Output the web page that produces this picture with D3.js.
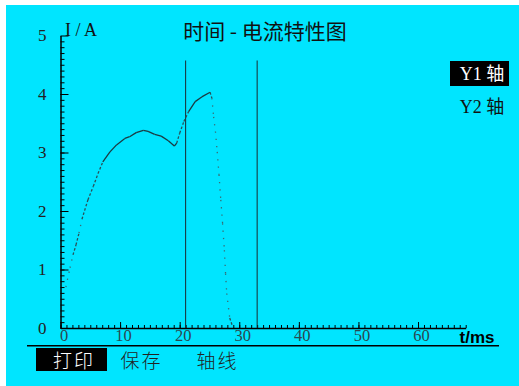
<!DOCTYPE html>
<html>
<head>
<meta charset="utf-8">
<script src="https://cdn.jsdelivr.net/npm/d3@7"></script>
<style>
  body { margin: 0; background: #fff; }
  svg { display: block; }
</style>
</head>
<body>
<div id="chart"></div>
<script>
// samples of the current curve (t in ms, I in A)
const timeMs = [0.9, 1.6, 2.1, 2.6, 3.1, 3.6, 4.6, 5.5, 6.3, 7.1, 8.3, 9.4, 10.8, 11.6, 12.7, 13.9, 14.7, 15.8, 16.9, 18.1, 19.1, 19.5, 20.0, 20.7, 21.5, 22.6, 23.7, 25.1, 25.4, 25.7, 26.0, 26.3, 26.6, 26.9, 27.2, 27.5, 27.7, 27.9, 28.2, 28.4, 28.8];
const current = [0.70, 1.03, 1.25, 1.42, 1.62, 1.86, 2.19, 2.42, 2.64, 2.84, 3.01, 3.13, 3.24, 3.27, 3.34, 3.38, 3.36, 3.31, 3.28, 3.20, 3.11, 3.16, 3.33, 3.53, 3.70, 3.87, 3.95, 4.03, 3.93, 3.61, 3.36, 3.01, 2.62, 2.19, 1.79, 1.33, 0.93, 0.59, 0.34, 0.17, 0.05];
const cursors = [21, 33];
const xTicks = [0, 10, 20, 30, 40, 50, 60];
const yTicks = [0, 1, 2, 3, 4, 5];
const menuItems = ["打印", "保存", "轴线"];
const legendItems = ["Y1 轴", "Y2 轴"];

const width = 519;
const height = 386;
const serif = "'Liberation Serif', 'DejaVu Serif', serif";
const cjk = "'Noto Sans CJK SC', sans-serif";

const svg = d3.select("#chart").append("svg")
  .attr("width", width)
  .attr("height", height);

// cyan screen
svg.append("rect")
  .attr("x", 6).attr("y", 5)
  .attr("width", width - 6).attr("height", height - 5)
  .attr("fill", "#00e5ff");

const x = d3.scaleLinear().domain([0, 68]).range([60.5, 465.7]);
const y = d3.scaleLinear().domain([0, 5]).range([328, 35.5]);

// minor ticks
svg.append("g")
  .attr("transform", `translate(0,${y(0)})`)
  .call(d3.axisBottom(x).tickValues(d3.range(0, 69, 1)).tickSize(-3).tickSizeOuter(0).tickFormat(""))
  .call(g => g.select(".domain").remove())
  .selectAll("line").attr("stroke", "#000");

svg.append("g")
  .attr("transform", `translate(${x(0)},0)`)
  .call(d3.axisLeft(y).tickValues(d3.range(0, 50, 1).map(d => d / 10)).tickSize(-4).tickSizeOuter(0).tickFormat(""))
  .call(g => g.select(".domain").remove())
  .selectAll("line").attr("stroke", "#000");

// major ticks + labels
const xAxis = svg.append("g")
  .attr("transform", `translate(0,${y(0)})`)
  .call(d3.axisBottom(x).tickValues(xTicks).tickSize(-6).tickSizeOuter(0).tickPadding(1));
xAxis.select(".domain").attr("stroke", "#000").attr("stroke-width", 1.5);
xAxis.selectAll("line").attr("stroke", "#000");
xAxis.selectAll("text")
  .attr("font-family", serif)
  .attr("font-size", 16.5)
  .attr("fill", "#2c4850")
  .attr("dx", 3);

const yAxis = svg.append("g")
  .attr("transform", `translate(${x(0)},0)`)
  .call(d3.axisLeft(y).tickValues(yTicks).tickSize(-8).tickSizeOuter(0).tickPadding(14).tickFormat(d3.format("d")));
yAxis.select(".domain").attr("stroke", "#000").attr("stroke-width", 1.5);
yAxis.selectAll("line").attr("stroke", "#000");
yAxis.selectAll("text")
  .attr("font-family", serif)
  .attr("font-size", 17)
  .attr("fill", "#222");

// axis names
svg.append("text")
  .attr("x", 65).attr("y", 36)
  .attr("font-family", serif).attr("font-size", 18)
  .attr("fill", "#111")
  .text("I / A");

svg.append("text")
  .attr("x", 477).attr("y", 343)
  .attr("text-anchor", "middle")
  .attr("font-family", "'Liberation Sans', Arial, sans-serif")
  .attr("font-weight", "bold").attr("font-size", 17)
  .attr("fill", "#000")
  .text("t/ms");

// title
svg.append("text")
  .attr("x", 265).attr("y", 39)
  .attr("text-anchor", "middle")
  .attr("font-family", cjk).attr("font-size", 21)
  .attr("font-weight", 400)
  .attr("fill", "#111")
  .text("时间 - 电流特性图");

// cursor lines
svg.selectAll(".cursor")
  .data(cursors)
  .enter()
  .append("line")
  .attr("x1", d => x(d)).attr("x2", d => x(d))
  .attr("y1", 60.5).attr("y2", y(0))
  .attr("stroke", "#1a2a30").attr("stroke-width", 1);

// current curve: steep parts appear as sparse sample dots
const pts = timeMs.map((t, i) => [x(t), y(current[i])]);
for (let i = 0; i < pts.length - 1; i++) {
  const [x0, y0] = pts[i];
  const [x1, y1] = pts[i + 1];
  const slope = Math.abs(y1 - y0) / Math.max(Math.abs(x1 - x0), 0.01);
  let dash = null;
  let color = "#1b3a42";
  if (slope > 4) { dash = "1.3 6"; color = "#3a6a72"; }
  else if (slope > 1.8) { dash = "2.5 2"; color = "#2a5058"; }
  svg.append("line")
    .attr("x1", x0).attr("y1", y0)
    .attr("x2", x1).attr("y2", y1)
    .attr("stroke", color)
    .attr("stroke-width", 1.3)
    .attr("stroke-dasharray", dash);
}

// legend on the right
const legend = svg.append("g");
legend.append("rect")
  .attr("x", 450).attr("y", 61)
  .attr("width", 59).attr("height", 25)
  .attr("fill", "#000");
legend.selectAll("text")
  .data(legendItems)
  .enter()
  .append("text")
  .attr("x", 482)
  .attr("y", (d, i) => 80 + i * 33)
  .attr("text-anchor", "middle")
  .attr("font-family", serif)
  .attr("font-size", 18)
  .attr("fill", (d, i) => (i === 0 ? "#fff" : "#111"))
  .each(function (d) {
    const parts = d.split(" ");
    d3.select(this).append("tspan").text(parts[0] + " ");
    d3.select(this).append("tspan").attr("font-family", cjk).text(parts[1]);
  });

// bottom separator and menu
svg.append("line")
  .attr("x1", 27).attr("x2", 499)
  .attr("y1", 345.7).attr("y2", 345.7)
  .attr("stroke", "#000").attr("stroke-width", 1.5);

svg.append("rect")
  .attr("x", 36).attr("y", 348)
  .attr("width", 71).attr("height", 23)
  .attr("fill", "#000");

const menuX = [74, 141.5, 217.5];
svg.selectAll(".menu")
  .data(menuItems)
  .enter()
  .append("text")
  .attr("x", (d, i) => menuX[i])
  .attr("y", 368)
  .attr("text-anchor", "middle")
  .attr("font-family", cjk)
  .attr("font-size", 19)
  .attr("font-weight", 300)
  .attr("letter-spacing", 2)
  .attr("fill", (d, i) => (i === 0 ? "#fff" : "#222"))
  .text(d => d);
</script>
</body>
</html>
